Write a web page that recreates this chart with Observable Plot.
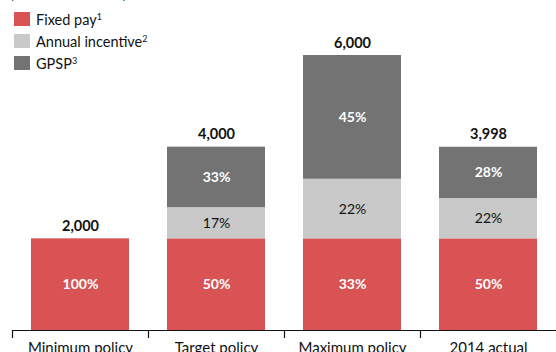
<!DOCTYPE html>
<html>
<head>
<meta charset="utf-8">
<script src="https://cdn.jsdelivr.net/npm/d3@7"></script>
<script src="https://cdn.jsdelivr.net/npm/@observablehq/plot@0.6"></script>
<style>
  html, body { margin: 0; padding: 0; background: #fff; }
  #wrap { position: relative; width: 556px; height: 352px; overflow: hidden; font-family: Lato, "Open Sans", sans-serif; }
  #unit { position: absolute; left: 10px; top: -15px; font-size: 14px; color: #000; white-space: nowrap; }
  #legend { position: absolute; left: 14px; top: 12px; font-size: 14.5px; color: #111; }
  .item { display: flex; align-items: center; height: 22px; }
  .sw { width: 16px; height: 14px; margin-right: 6px; margin-top: -8px; }
  .lbl { margin-top: -8px; }
  sup { font-size: 9px; vertical-align: 5px; line-height: 0; }
  #chart { position: absolute; left: 0; top: 0; }
</style>
</head>
<body>
<div id="wrap">
  <div id="chart"></div>
  <div id="unit">(in CHF thousands)</div>
  <div id="legend"></div>
</div>
<script>
const categories = ["Minimum policy", "Target policy", "Maximum policy", "2014 actual"];
const components = ["Fixed pay", "Annual incentive", "GPSP"];
const legendSup = ["1", "2", "3"];
const colors = ["#d95355", "#c9c9c9", "#737373"];
// values in CHF thousands, per component, per category
const fixedPay = [2000, 2000, 2000, 1999];
const annualIncentive = [0, 680, 1300, 880];
const gpsp = [0, 1320, 2700, 1119];
const fixedPct = ["100%", "50%", "33%", "50%"];
const annualPct = ["", "17%", "22%", "22%"];
const gpspPct = ["", "33%", "45%", "28%"];
const totals = [2000, 4000, 6000, 3998];

const series = [fixedPay, annualIncentive, gpsp];
const pcts = [fixedPct, annualPct, gpspPct];
const rows = [];
components.forEach((c, j) => {
  categories.forEach((cat, i) => {
    rows.push({category: cat, component: c, value: series[j][i], pct: pcts[j][i]});
  });
});
const totalRows = categories.map((c, i) => ({category: c, total: totals[i]}));
const fmt = d3.format(",");

const W = 556, H = 352;
const left = 12;
const step = (W - left) / categories.length;

const chart = Plot.plot({
  width: W,
  height: H,
  marginLeft: left,
  marginRight: 0,
  marginTop: 55,
  marginBottom: 22,
  style: {fontFamily: "Lato, 'Open Sans', sans-serif", background: "transparent"},
  x: {type: "band", domain: categories, paddingInner: 0.28, paddingOuter: 0.14, axis: null},
  y: {domain: [0, 6000], axis: null},
  color: {domain: components, range: colors},
  marks: [
    Plot.barY(rows, {x: "category", y: "value", fill: "component", z: "component", order: components}),
    Plot.text(rows, Plot.stackY({x: "category", y: "value", z: "component", order: components,
      text: d => d.component === "Annual incentive" ? null : d.pct,
      fill: "white", fontWeight: "bold", fontSize: 14})),
    Plot.text(rows, Plot.stackY({x: "category", y: "value", z: "component", order: components,
      text: d => d.component === "Annual incentive" && d.value > 0 ? d.pct : null,
      fill: "#111", fontSize: 14})),
    Plot.text(totalRows, {x: "category", y: "total", text: d => fmt(d.total),
      lineAnchor: "bottom", dy: -8, fontWeight: "bold", fontSize: 14.5, fill: "#111"}),
    Plot.ruleY([0], {stroke: "#111", strokeWidth: 1.2}),
    Plot.ruleX(categories, {x: d => d, y1: 0, y2: 0, dx: -step / 2, insetBottom: -8, stroke: "#111", strokeWidth: 1.2}),
    Plot.text(categories, {x: d => d, y: 0, text: d => d, lineAnchor: "bottom", dy: 22, fontSize: 15, fill: "#111"})
  ]
});
document.getElementById("chart").appendChild(chart);

const legend = document.getElementById("legend");
components.forEach((c, j) => {
  const item = document.createElement("div");
  item.className = "item";
  item.innerHTML = `<div class="sw" style="background:${colors[j]}"></div><div class="lbl">${c}<sup>${legendSup[j]}</sup></div>`;
  legend.appendChild(item);
});
</script>
</body>
</html>
